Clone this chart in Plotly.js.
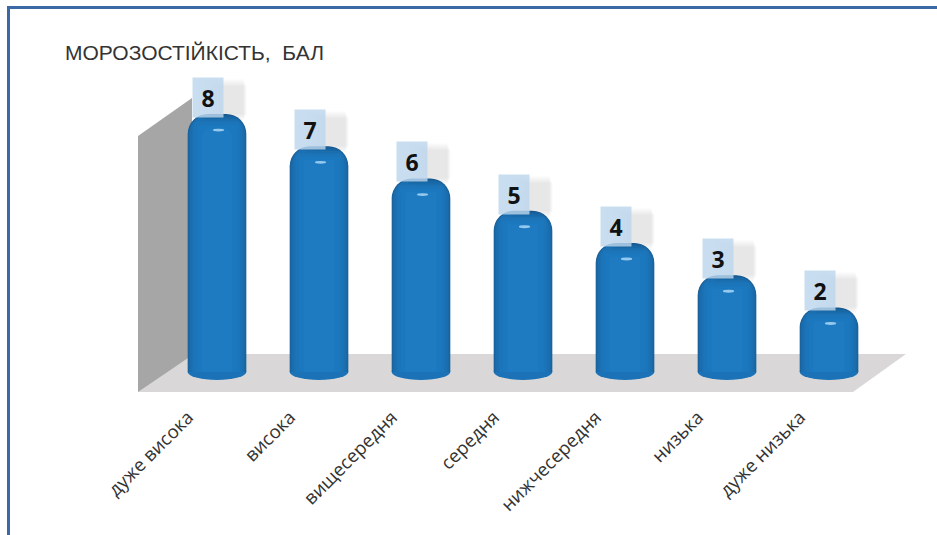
<!DOCTYPE html>
<html><head><meta charset="utf-8">
<script src="https://cdn.plot.ly/plotly-3.0.1.min.js"></script>
<style>html,body{margin:0;padding:0;background:#fff}</style></head>
<body><div id="chart" style="width:937px;height:535px"></div>
<script>
const categories = ["дуже висока","висока","вищесередня","середня","нижчесередня","низька","дуже низька"];
const scores = [8,7,6,5,4,3,2];
const titleText = "МОРОЗОСТІЙКІСТЬ,\u00a0\u00a0БАЛ";

const W=937,H=535,L=166,R=57,T=114,B=147;
const YMIN=-0.5,YMAX=8;
const px=x=>(x-L)/(W-L-R), py=y=>1-(y-T)/(H-T-B);
const poly=(pts,fill)=>({type:'path',xref:'paper',yref:'paper',layer:'below',line:{width:0},fillcolor:fill,
  path:'M'+pts.map(p=>px(p[0]).toFixed(5)+','+py(p[1]).toFixed(5)).join('L')+'Z'});

const layers=[
 {w:0.575,drop:0,   c:'#1b6199',r:20},
 {w:0.565,drop:0.02,c:'#1b65a0',r:20},
 {w:0.55, drop:0.05,c:'#1b69a7',r:19},
 {w:0.53, drop:0.09,c:'#1b6dad',r:18},
 {w:0.50, drop:0.15,c:'#1b71b3',r:16},
 {w:0.46, drop:0.23,c:'#1c75b9',r:14},
 {w:0.40, drop:0.33,c:'#1c78be',r:12},
 {w:0.30, drop:0.43,c:'#1e7bc2',r:10}
];
const traces=layers.map(l=>({type:'bar',x:categories,y:scores.map(v=>v-l.drop),width:l.w,
  marker:{color:l.c,cornerradius:l.r,line:{width:0}},hoverinfo:'skip',showlegend:false}));

const shapes=[
 poly([[138,392],[853,392],[906,354],[188,354]],'#d9d7d8'),
 poly([[138,136],[192,98],[192,354],[188,358],[138,392]],'#a6a6a6'),
 poly([[6,6],[937,6],[937,9],[10,9],[10,535],[7,535],[7,6]],'#3a69a5')
];
scores.forEach((v,i)=>{
  shapes.push({type:'circle',xref:'x',yref:'y',layer:'below',x0:i-0.2875,x1:i+0.2875,y0:-0.25,y1:0.25,fillcolor:'#1b72b6',line:{width:0}});
  shapes.push({type:'circle',xref:'x',yref:'y',layer:'above',x0:i-0.04,x1:i+0.07,y0:v-0.545,y1:v-0.455,fillcolor:'rgba(170,215,245,0.85)',line:{width:0}});
});

const annotations=[];
scores.forEach((v,i)=>{
  [[15,24],[12,28],[9,32],[6,36]].forEach(s=>annotations.push({x:categories[i],y:v,xref:'x',yref:'y',text:' ',showarrow:false,
     width:s[1],height:s[1]+2,bgcolor:'rgba(0,0,0,0.025)',xshift:s[0]+1,yshift:14,xanchor:'center',yanchor:'middle'}));
  annotations.push({x:categories[i],y:v,xref:'x',yref:'y',text:'<b>'+v+'</b>',showarrow:false,
     width:28,height:37,bgcolor:'rgba(188,214,235,0.82)',xshift:-9,yshift:16.5,xanchor:'center',yanchor:'middle',
     font:{family:'"Open Sans",sans-serif',size:23,color:'#111'}});
});
annotations.push({xref:'paper',yref:'paper',x:px(63),y:py(53),xanchor:'left',yanchor:'middle',showarrow:false,
  text:titleText,font:{family:'"Liberation Sans",Arial,sans-serif',size:21,color:'#333'}});

Plotly.newPlot('chart',traces,{
 width:W,height:H,margin:{l:L,r:R,t:T,b:B,pad:0},paper_bgcolor:'#fff',plot_bgcolor:'rgba(0,0,0,0)',
 barmode:'overlay',showlegend:false,shapes,annotations,
 xaxis:{type:'category',categoryorder:'array',categoryarray:categories,range:[-0.5,6.5],tickangle:-45,ticks:'',showgrid:false,zeroline:false,showline:false,
   ticklabelstandoff:14,ticklabelshift:-29,tickfont:{family:'"Open Sans",sans-serif',size:18.5,color:'#333'}},
 yaxis:{range:[YMIN,YMAX],visible:false,fixedrange:true}
},{displayModeBar:false,staticPlot:true});
</script></body></html>
